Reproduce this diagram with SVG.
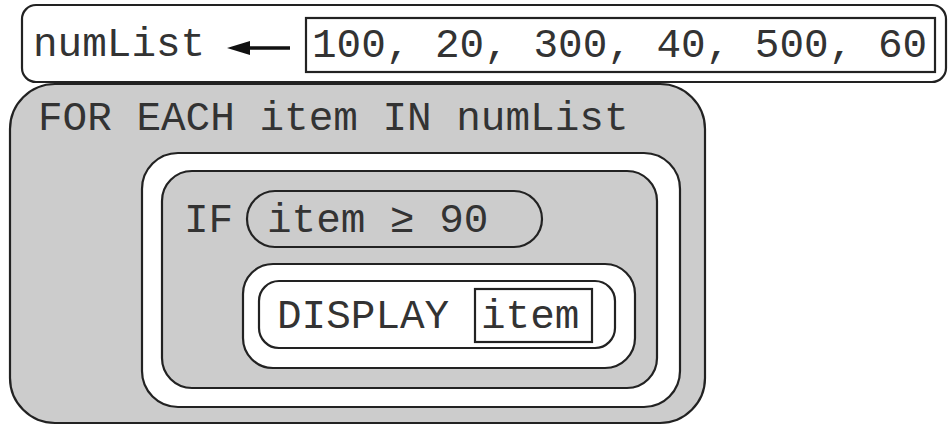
<svg xmlns="http://www.w3.org/2000/svg" width="949" height="425" viewBox="0 0 949 425">
<style>
.t{font-family:"Liberation Mono","DejaVu Sans Mono",monospace;font-size:41px;fill:#333}
.s{stroke:#222;stroke-width:2.2}
.g{fill:#cccccc}
.w{fill:#ffffff}
</style>
<defs>
<marker id="ah" markerWidth="10" markerHeight="10" refX="1" refY="5" orient="auto" markerUnits="userSpaceOnUse" viewBox="0 0 10 10">
<path d="M0,5 L22,0 L22,10 Z" fill="#111"/>
</marker>
</defs>
<rect width="949" height="425" fill="#ffffff"/>
<g id="assign">
<rect class="s w" x="22" y="5" width="924" height="77" rx="14"/>
<text class="t" x="33" y="56">numList</text>
</g>
<g id="list">
<rect class="s w" x="306" y="18" width="629" height="54"/>
<text class="t" x="312" y="57">100, 20, 300, 40, 500, 60</text>
</g>
<g id="foreach">
<rect class="s g" x="10" y="84" width="695" height="339" rx="45"/>
<text class="t" x="38" y="130">FOR EACH item IN numList</text>
</g>
<g id="foreach-body">
<rect class="s w" x="142" y="153" width="538" height="254" rx="36"/>
</g>
<g id="if">
<rect class="s g" x="162" y="171" width="495" height="217" rx="30"/>
<text class="t" x="184" y="232">IF</text>
</g>
<g id="condition">
<rect class="s g" x="247" y="191" width="295" height="56" rx="28"/>
<text class="t" x="267" y="232">item ≥ 90</text>
</g>
<g id="if-body">
<rect class="s w" x="243" y="264" width="392" height="104" rx="30"/>
</g>
<g id="display">
<rect class="s w" x="259" y="281" width="356" height="67" rx="20"/>
<text class="t" x="277" y="328">DISPLAY</text>
</g>
<g id="item">
<rect class="s w" x="475" y="289" width="117" height="53"/>
<text class="t" x="481" y="328">item</text>
</g>
<g id="connectors">
<line x1="290" y1="48" x2="248" y2="48" stroke="#111" stroke-width="3.5"/>
<path d="M227,48 L250,41 L250,55 Z" fill="#111"/>
</g>
</svg>
